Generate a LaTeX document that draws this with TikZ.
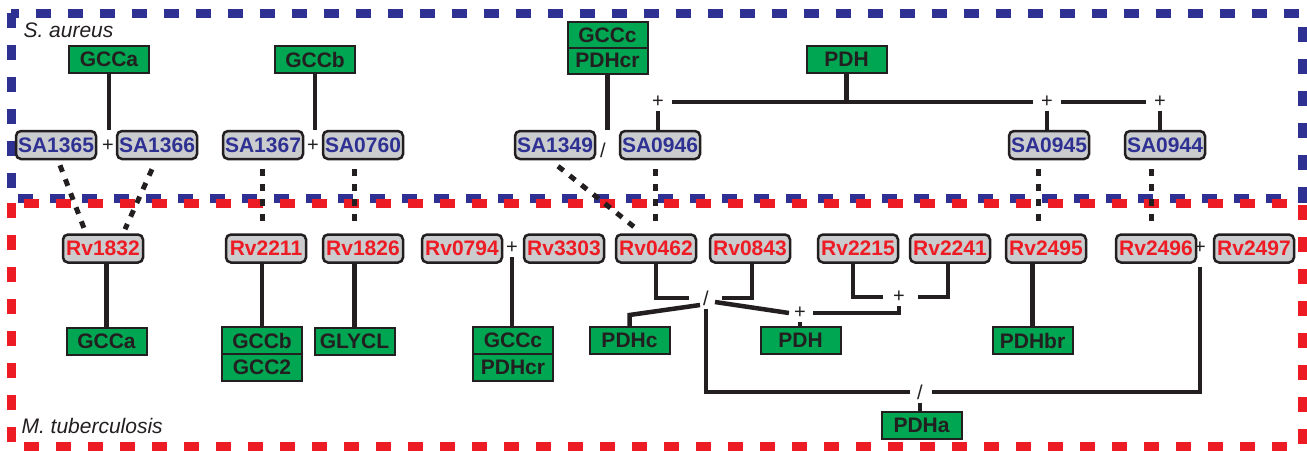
\documentclass[tikz,border=0pt]{standalone}
\usepackage{fontspec}
\setmainfont{Liberation Sans}
\usetikzlibrary{calc}
\definecolor{sablue}{RGB}{46,49,146}
\definecolor{mtred}{RGB}{237,28,36}
\definecolor{gfill}{RGB}{0,166,81}
\definecolor{grayfill}{RGB}{203,204,206}
\definecolor{ink}{RGB}{35,31,32}
\begin{document}
\begin{tikzpicture}[x=1pt,y=-1pt,
  gene/.style={draw=ink, line width=2.5pt, rounded corners=5pt, fill=grayfill, minimum width=80pt, minimum height=28pt, inner sep=0pt, font=\fontsize{21}{22}\selectfont\bfseries},
  sagene/.style={gene, text=sablue},
  rvgene/.style={gene, text=mtred},
  rxn/.style={draw=ink, line width=2pt, fill=gfill, minimum width=80pt, minimum height=27pt, inner sep=0pt, text=ink, font=\fontsize{21}{22}\selectfont\bfseries},
  rxnhalf/.style={rxn, minimum height=26pt},
  op/.style={inner sep=3pt, text=ink, font=\fontsize{20}{20}\selectfont},
  link/.style={draw=ink, line width=4.5pt},
  hom/.style={draw=ink, line width=5pt, dash pattern=on 7pt off 8pt},
  frame/.style={line width=9pt, dash pattern=on 15pt off 17pt},
  species/.style={anchor=base west, text=ink, font=\fontsize{21}{21}\selectfont\itshape},
]
\useasboundingbox (0,0) rectangle (1307,450);
\fill[white] (0,0) rectangle (1307,450);

% frames
\draw[frame, sablue] (11,13) rectangle (1302,198);
\draw[frame, mtred] (11,203) rectangle (1302,446);

\node[species] (saname) at (20,37) {S. aureus};
\node[species] (mtname) at (18,433) {M. tuberculosis};

% S. aureus reactions
\node[rxn] (GCCas) at (109,59.5) {GCCa};
\node[rxn] (GCCbs) at (315,59.5) {GCCb};
\node[rxnhalf] (GCCcs) at (607.5,35) {GCCc};
\node[rxnhalf] (PDHcrs) at (607.5,60.5) {PDHcr};
\node[rxn] (PDHs) at (846.5,59.5) {PDH};

% S. aureus genes
\node[sagene] (SA1365) at (56,145) {SA1365};
\node[sagene] (SA1366) at (157,145) {SA1366};
\node[sagene] (SA1367) at (263,145) {SA1367};
\node[sagene] (SA0760) at (363,145) {SA0760};
\node[sagene] (SA1349) at (555,145) {SA1349};
\node[sagene] (SA0946) at (660,145) {SA0946};
\node[sagene] (SA0945) at (1049,145) {SA0945};
\node[sagene] (SA0944) at (1165,145) {SA0944};

% S. aureus operators
\node[op] (p1) at (108,146) {+};
\node[op] (p2) at (313,146) {+};
\node[op] (s1) at (603,150) {/};
\node[op] (pA) at (658,102) {+};
\node[op] (pB) at (1047,102) {+};
\node[op] (pC) at (1160,102) {+};

% M. tuberculosis genes
\node[rvgene] (Rv1832) at (103,248.5) {Rv1832};
\node[rvgene] (Rv2211) at (266,248.5) {Rv2211};
\node[rvgene] (Rv1826) at (363,248.5) {Rv1826};
\node[rvgene] (Rv0794) at (462,248.5) {Rv0794};
\node[rvgene] (Rv3303) at (564,248.5) {Rv3303};
\node[rvgene] (Rv0462) at (656,248.5) {Rv0462};
\node[rvgene] (Rv0843) at (750,248.5) {Rv0843};
\node[rvgene] (Rv2215) at (858,248.5) {Rv2215};
\node[rvgene] (Rv2241) at (950,248.5) {Rv2241};
\node[rvgene] (Rv2495) at (1046,248.5) {Rv2495};
\node[rvgene] (Rv2496) at (1156,248.5) {Rv2496};
\node[rvgene] (Rv2497) at (1254,248.5) {Rv2497};

% M. tuberculosis reactions
\node[rxn] (GCCam) at (106.5,341) {GCCa};
\node[rxn] (GCCbm) at (262,340.5) {GCCb};
\node[rxn] (GCC2m) at (262,367.5) {GCC2};
\node[rxn] (GLYCLm) at (354.5,341) {GLYCL};
\node[rxn] (GCCcm) at (513,340.5) {GCCc};
\node[rxn] (PDHcrm) at (513,367.5) {PDHcr};
\node[rxn] (PDHcm) at (629.5,340.5) {PDHc};
\node[rxn] (PDHm) at (800.5,340.5) {PDH};
\node[rxn] (PDHbrm) at (1032.5,340.5) {PDHbr};
\node[rxn] (PDHam) at (921.5,425.5) {PDHa};

% M. tuberculosis operators
\node[op] (p3) at (512,248) {+};
\node[op] (s2) at (706,298) {/};
\node[op] (pD) at (800,313) {+};
\node[op] (pE) at (899,297) {+};
\node[op] (s3) at (920,392) {/};
\node[op] (pF) at (1200,248) {+};

% S. aureus links
\draw[link] (GCCas.south) -- (GCCas.south |- SA1365.north);
\draw[link] (GCCbs.south) -- (GCCbs.south |- SA1367.north);
\draw[link] (PDHcrs.south) -- (PDHcrs.south |- SA1349.north);
\draw[link] (PDHs.south) -- (PDHs.south |- pA.east);
\draw[link, shorten <=5pt, shorten >=5pt] (pA.east) -- (pB.west);
\draw[link, shorten <=5pt, shorten >=5pt] (pB.east) -- (pC.west);
\draw[link] (pA.south) -- (pA.south |- SA0946.north);
\draw[link] (pB.south) -- (pB.south |- SA0945.north);
\draw[link] (pC.south) -- (pC.south |- SA0944.north);

% homology links
\draw[hom] ($(SA1365.south)+(4,5)$) -- ($(Rv1832.north)+(-19,-5)$);
\draw[hom] ($(SA1366.south)+(-5,9)$) -- ($(Rv1832.north)+(22,-4)$);
\draw[hom] ($(SA1367.south)+(-1,9)$) -- ($(Rv2211.north)+(-4,-6)$);
\draw[hom] ($(SA0760.south)+(-9,9)$) -- ($(Rv1826.north)+(-9,-6)$);
\draw[hom] ($(SA1349.south)+(3,6)$) -- ($(Rv0462.north)+(-19,-4)$);
\draw[hom] ($(SA0946.south)+(-5,9)$) -- ($(Rv0462.north)+(-1,-6)$);
\draw[hom] ($(SA0945.south)+(-11,9)$) -- ($(Rv2495.north)+(-8,-6)$);
\draw[hom] ($(SA0944.south)+(-14,9)$) -- ($(Rv2496.north)+(-5,-6)$);

% M. tuberculosis links
\draw[link] (Rv1832.south -| GCCam.north) -- (GCCam.north);
\draw[link] (Rv2211.south -| GCCbm.north) -- (GCCbm.north);
\draw[link] (Rv1826.south -| GLYCLm.north) -- (GLYCLm.north);
\draw[link] (p3.south) -- (p3.south |- GCCcm.north);
\draw[link] (Rv0462.south) |- ([xshift=-11pt]s2.west);
\draw[link] ($(Rv0843.south)+(2,0)$) |- ([xshift=10pt]s2.east);
\draw[link] ($(s2.center)+(-6,7)$) -- ($(PDHcm.north)+(0,-11)$) -- (PDHcm.north);
\draw[link] ($(s2.center)+(9,4)$) -- ([xshift=-2pt]pD.west);
\draw[link] (pD.south) -- (pD.south |- PDHm.north);
\draw[link] ([xshift=4pt]pD.east) -| (pE.south);
\draw[link] ($(Rv2215.south)+(-5,0)$) |- ([xshift=-7pt]pE.west);
\draw[link] ($(Rv2241.south)+(-2,0)$) |- ([xshift=10pt]pE.east);
\draw[link] (Rv2495.south -| PDHbrm.north) -- (PDHbrm.north);
\draw[link] (s2.south) |- ([xshift=-4pt]s3.west);
\draw[link, shorten >=10pt] ([xshift=6pt]s3.east) -| (pF.south);
\draw[link] (s3.south) -- (s3.south |- PDHam.north);
\end{tikzpicture}
\end{document}
